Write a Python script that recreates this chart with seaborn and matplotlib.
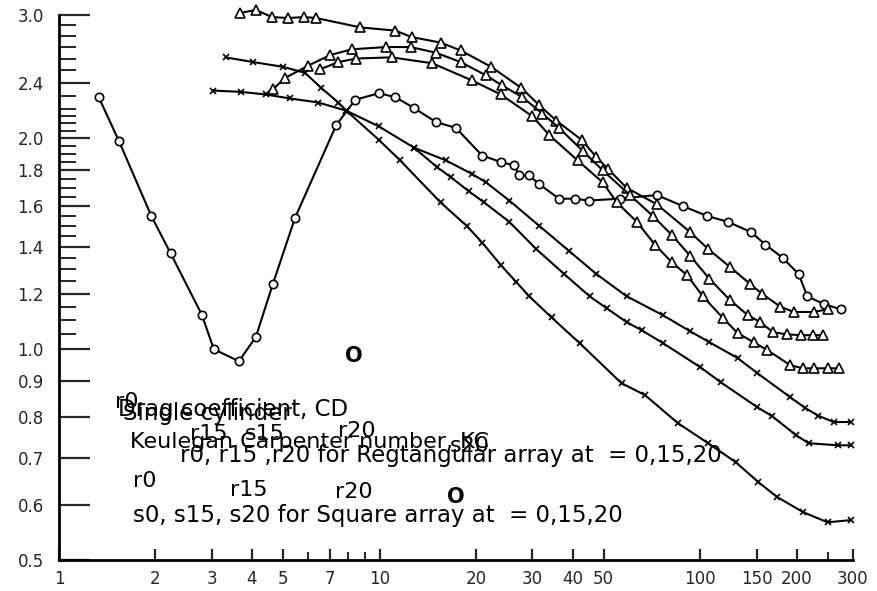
import matplotlib
matplotlib.use("Agg")
import matplotlib.pyplot as plt
import seaborn as sns
from matplotlib.ticker import FixedLocator, FixedFormatter, NullFormatter

# single cylinder (circles)
cyl_kc = [1.33, 1.54, 1.94, 2.23, 2.79, 3.04, 3.64, 4.11, 4.65, 5.45, 7.33, 8.4,
          9.95, 11.2, 12.8, 15.0, 17.3, 20.9, 23.9, 26.3, 27.3, 29.3, 31.5, 36.3,
          40.6, 44.9, 56.1, 73.3, 88.5, 105, 122, 144, 160, 181, 203, 216, 243, 275]
cyl_cd = [2.29, 1.98, 1.55, 1.37, 1.12, 1.00, 0.961, 1.04, 1.24, 1.54, 2.09, 2.27,
          2.32, 2.29, 2.21, 2.11, 2.07, 1.89, 1.85, 1.83, 1.77, 1.77, 1.72, 1.64,
          1.64, 1.63, 1.64, 1.66, 1.60, 1.55, 1.52, 1.47, 1.41, 1.35, 1.28, 1.19, 1.16, 1.14]

# triangles
triA_kc = [3.67, 4.11, 4.62, 5.18, 5.82, 6.35, 8.72, 11.2, 12.6, 15.5, 17.9, 22.3,
           27.7, 31.5, 35.6, 42.7, 47.5, 51.5, 59.0, 73.3, 93.0, 106, 124, 143,
           156, 178, 196, 226, 250]
triA_cd = [3.02, 3.05, 2.98, 2.97, 2.98, 2.97, 2.88, 2.85, 2.79, 2.74, 2.67, 2.53,
           2.36, 2.23, 2.12, 1.99, 1.88, 1.81, 1.70, 1.61, 1.47, 1.39, 1.31, 1.24,
           1.20, 1.15, 1.13, 1.13, 1.14]

triB_kc = [4.65, 5.08, 5.99, 7.02, 8.19, 10.5, 12.5, 15.0, 17.9, 21.5, 24.1, 27.9,
           32.2, 36.3, 43.0, 49.7, 60.4, 71.2, 81.7, 93.0, 107, 124, 141, 154,
           169, 187, 206, 225, 241]
triB_cd = [2.35, 2.44, 2.54, 2.63, 2.68, 2.70, 2.70, 2.65, 2.57, 2.46, 2.38, 2.29,
           2.17, 2.07, 1.92, 1.80, 1.66, 1.55, 1.455, 1.36, 1.26, 1.175, 1.118, 1.093,
           1.057, 1.05, 1.047, 1.047, 1.047]

triC_kc = [6.53, 7.44, 8.47, 10.9, 14.6, 19.4, 23.9, 30.0, 33.9, 41.5, 49.7, 55.0,
           63.5, 72.3, 81.7, 91.0, 102, 118, 131, 147, 162, 191, 209, 226, 250, 271]
triC_cd = [2.51, 2.57, 2.60, 2.61, 2.56, 2.42, 2.31, 2.15, 2.02, 1.86, 1.73, 1.62,
           1.52, 1.41, 1.33, 1.276, 1.19, 1.107, 1.054, 1.023, 0.997, 0.949, 0.939,
           0.939, 0.939, 0.939]

# crosses
xa_kc = [3.31, 4.03, 5.0, 5.86, 6.58, 7.44, 7.88, 9.95, 12.8, 16.1, 19.4, 21.5,
         25.4, 31.5, 39.1, 47.5, 59.0, 76.6, 93.0, 107, 131, 151, 191, 213, 233, 261, 295]
xa_cd = [2.61, 2.57, 2.53, 2.48, 2.36, 2.25, 2.19, 2.08, 1.94, 1.86, 1.78, 1.73,
         1.63, 1.50, 1.38, 1.28, 1.19, 1.118, 1.061, 1.023, 0.971, 0.924, 0.854,
         0.824, 0.804, 0.787, 0.787]

xb_kc = [3.02, 3.69, 4.42, 5.26, 6.44, 7.88, 9.95, 11.6, 15.5, 18.7, 20.9, 23.9,
         26.7, 29.3, 34.4, 42.1, 56.9, 67.3, 85.3, 106, 129, 152, 174, 210, 250, 295]
xb_cd = [2.34, 2.33, 2.31, 2.28, 2.25, 2.19, 1.99, 1.86, 1.62, 1.50, 1.42, 1.318,
         1.247, 1.19, 1.11, 1.02, 0.894, 0.86, 0.784, 0.734, 0.690, 0.646, 0.615,
         0.585, 0.566, 0.570]

xc_kc = [12.8, 15.1, 16.7, 19.0, 21.2, 25.4, 30.8, 37.7, 45.2, 51.1, 59.0, 65.8,
         76.6, 100, 116, 151, 168, 199, 218, 269, 295]
xc_cd = [1.94, 1.82, 1.76, 1.68, 1.62, 1.52, 1.39, 1.28, 1.19, 1.144, 1.093, 1.064,
         1.02, 0.943, 0.897, 0.826, 0.802, 0.754, 0.734, 0.729, 0.729]

x_ticks = [1, 2, 3, 4, 5, 7, 10, 20, 30, 40, 50, 100, 150, 200, 300]
y_ticks = [0.5, 0.6, 0.7, 0.8, 0.9, 1.0, 1.2, 1.4, 1.6, 1.8, 2.0, 2.4, 3.0]
y_labels = ["0.5", "0.6", "0.7", "0.8", "0.9", "1.0", "1.2", "1.4", "1.6",
            "1.8", "2.0", "2.4", "3.0"]
x_minor = [6, 8, 9, 250]
y_minor = [1.05, 1.1, 1.15, 1.25, 1.3, 1.35, 1.45, 1.5, 1.55, 1.65, 1.7, 1.75,
           1.85, 1.9, 1.95, 2.05, 2.1, 2.15, 2.2, 2.3, 2.5, 2.6, 2.7, 2.8, 2.9]

sns.set_style("ticks")
plt.rcParams["font.family"] = ["DejaVu Sans"]

W, H = 878, 591
fig = plt.figure(figsize=(W / 100, H / 100), dpi=100)
ax = fig.add_axes([59 / W, 31 / H, 794 / W, 545 / H])

series = [
    (cyl_kc, cyl_cd, "o", 6),
    (triA_kc, triA_cd, "^", 7),
    (triB_kc, triB_cd, "^", 7),
    (triC_kc, triC_cd, "^", 7),
    (xa_kc, xa_cd, "x", 5),
    (xb_kc, xb_cd, "x", 5),
    (xc_kc, xc_cd, "x", 5),
]
for kc, cd, m, ms in series:
    sns.lineplot(x=kc, y=cd, ax=ax, color="black", linewidth=1.5, marker=m,
                 markersize=ms, markerfacecolor="white", markeredgecolor="black",
                 markeredgewidth=1.2, estimator=None, sort=False, clip_on=False)

ax.set_xscale("log")
ax.set_yscale("log")
ax.set_xlim(1, 300)
ax.set_ylim(0.5, 3.0)

ax.xaxis.set_major_locator(FixedLocator(x_ticks))
ax.xaxis.set_major_formatter(FixedFormatter([str(v) for v in x_ticks]))
ax.xaxis.set_minor_locator(FixedLocator(x_minor))
ax.xaxis.set_minor_formatter(NullFormatter())
ax.yaxis.set_major_locator(FixedLocator(y_ticks))
ax.yaxis.set_major_formatter(FixedFormatter(y_labels))
ax.yaxis.set_minor_locator(FixedLocator(y_minor))
ax.yaxis.set_minor_formatter(NullFormatter())

ax.tick_params(axis="y", which="major", direction="in", length=22, width=1.6,
               pad=11, labelsize=12)
ax.tick_params(axis="y", which="minor", direction="in", length=12, width=1.4)
ax.tick_params(axis="x", which="major", direction="in", length=8, width=1.6,
               pad=7, labelsize=12)
ax.tick_params(axis="x", which="minor", direction="in", length=6, width=1.4)
for s in ["top", "right"]:
    ax.spines[s].set_visible(False)
for s in ["left", "bottom"]:
    ax.spines[s].set_linewidth(2)
    ax.spines[s].set_color("black")
ax.set_xlabel("")
ax.set_ylabel("")

# the overlapping caption texts of the original figure
labels = [
    (345, 362, "O", "bold", 15),
    (115, 408, "r0", "normal", 16),
    (118, 416, "Drag coefficient, CD", "normal", 16.5),
    (123, 420, "Single cylinder", "normal", 16.5),
    (190, 440, "r15", "normal", 16),
    (245, 440, "s15", "normal", 16),
    (338, 437, "r20", "normal", 16),
    (130, 448, "Keulegan Carpenter number, KC", "normal", 16),
    (450, 452, "s20", "normal", 16),
    (180, 462, "r0, r15 ,r20 for Regtangular array at  = 0,15,20", "normal", 16.5),
    (133, 487, "r0", "normal", 16),
    (230, 496, "r15", "normal", 16),
    (335, 498, "r20", "normal", 16),
    (447, 503, "O", "bold", 15),
    (133, 522, "s0, s15, s20 for Square array at  = 0,15,20", "normal", 16.5),
]
for px, py, txt, wt, fs in labels:
    fig.text(px / W, 1 - py / H, txt, fontsize=fs, fontweight=wt,
             ha="left", va="baseline", color="black")

plt.savefig("out.png", dpi=100)
